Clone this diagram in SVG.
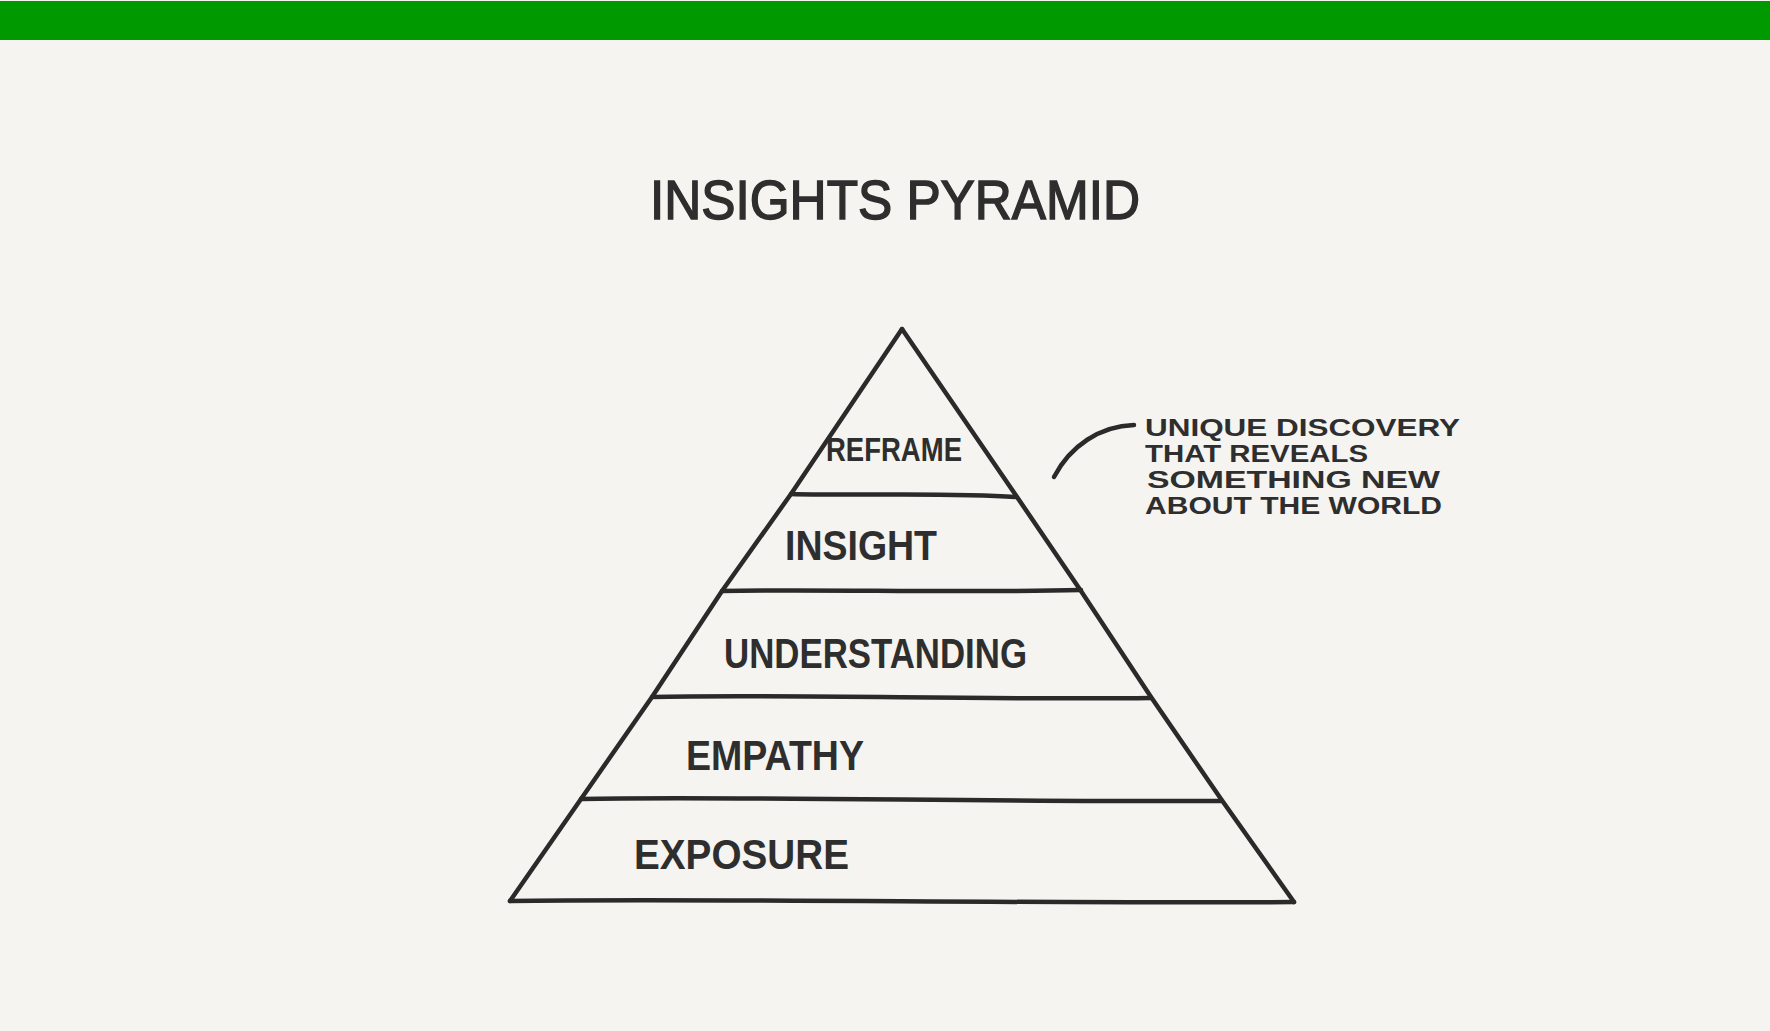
<svg xmlns="http://www.w3.org/2000/svg" width="1770" height="1031" viewBox="0 0 1770 1031">
  <style>
    .ink { fill: none; stroke: #2a2a2a; stroke-width: 4.5; stroke-linecap: round; stroke-linejoin: round; }
    .lbl { font-family: "Liberation Sans", Arial, sans-serif; font-weight: bold; fill: #2e2e2e; }
    .title { font-family: "Liberation Sans", Arial, sans-serif; font-weight: normal; fill: #2e2e2e; stroke: #2e2e2e; stroke-width: 1.5; }
    .note { font-family: "Liberation Sans", Arial, sans-serif; font-weight: bold; fill: #2e2e2e; font-size: 23px; }
  </style>
  <rect x="0" y="0" width="1770" height="1031" fill="#f5f4f0"/>
  <rect x="0" y="1" width="1770" height="39" fill="#009900"/>

  <g id="title">
    <text class="title" x="650" y="219" font-size="56" textLength="490" lengthAdjust="spacingAndGlyphs">INSIGHTS PYRAMID</text>
  </g>

  <g id="pyramid">
    <path class="ink" d="M902,329 L791,494 L722,591 L652,697 L581,799 L510,901"/>
    <path class="ink" d="M902,329 L1015,494 L1081,591 L1151,697 L1221,799 L1294,902"/>
  </g>

  <g id="reframe">
    <path class="ink" d="M791,494 C850,496 950,492 1015,497"/>
    <text class="lbl" x="826" y="461" font-size="33" textLength="136" lengthAdjust="spacingAndGlyphs">REFRAME</text>
  </g>
  <g id="insight">
    <path class="ink" d="M722,591 C820,589 960,593 1081,590"/>
    <text class="lbl" x="785" y="560" font-size="42" textLength="152" lengthAdjust="spacingAndGlyphs">INSIGHT</text>
  </g>
  <g id="understanding">
    <path class="ink" d="M652,697 C780,694 990,700 1151,698"/>
    <text class="lbl" x="724" y="668" font-size="42" textLength="303" lengthAdjust="spacingAndGlyphs">UNDERSTANDING</text>
  </g>
  <g id="empathy">
    <path class="ink" d="M581,799 C720,796 1000,802 1221,801"/>
    <text class="lbl" x="686" y="770" font-size="42" textLength="178" lengthAdjust="spacingAndGlyphs">EMPATHY</text>
  </g>
  <g id="exposure">
    <path class="ink" d="M510,901 C700,898 1050,904 1294,902"/>
    <text class="lbl" x="634" y="869" font-size="42" textLength="215" lengthAdjust="spacingAndGlyphs">EXPOSURE</text>
  </g>

  <g id="connectors">
    <path class="ink" d="M1134,425 C1100,426 1070,446 1054,477"/>
  </g>

  <g id="annotation">
    <text class="note" x="1145" y="436" textLength="315" lengthAdjust="spacingAndGlyphs">UNIQUE DISCOVERY</text>
    <text class="note" x="1145" y="462" textLength="223" lengthAdjust="spacingAndGlyphs">THAT REVEALS</text>
    <text class="note" x="1147" y="488" textLength="293" lengthAdjust="spacingAndGlyphs">SOMETHING  NEW</text>
    <text class="note" x="1145" y="514" textLength="297" lengthAdjust="spacingAndGlyphs">ABOUT THE WORLD</text>
  </g>
</svg>
